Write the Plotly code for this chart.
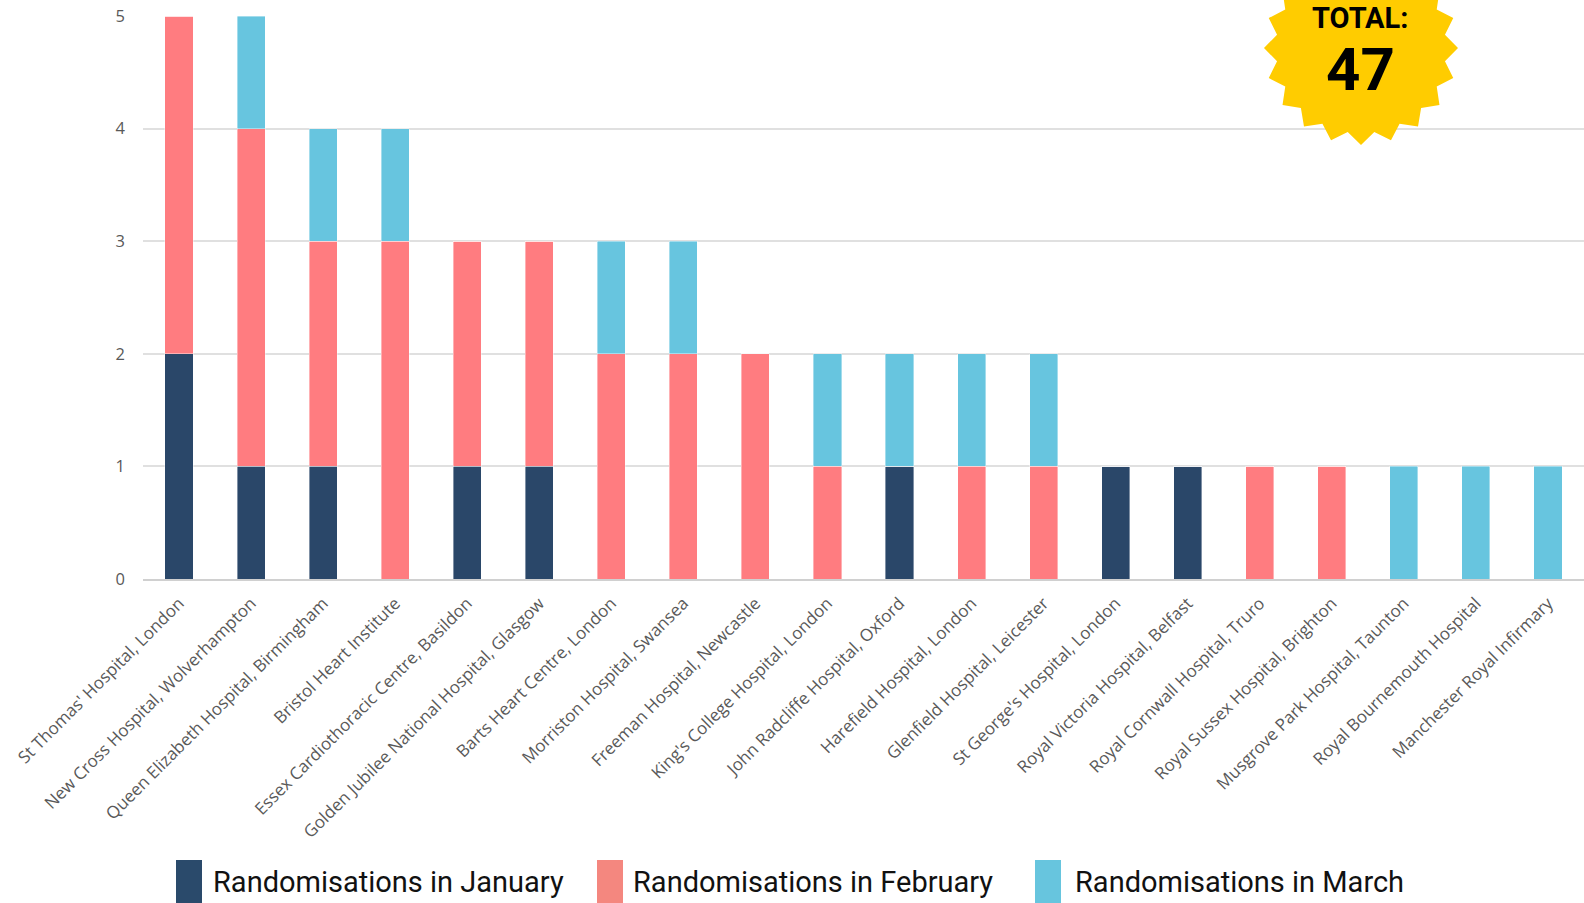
import numpy as np
import plotly.graph_objects as go

hospitals = [
    "St Thomas' Hospital, London",
    "New Cross Hospital, Wolverhampton",
    "Queen Elizabeth Hospital, Birmingham",
    "Bristol Heart Institute",
    "Essex Cardiothoracic Centre, Basildon",
    "Golden Jubilee National Hospital, Glasgow",
    "Barts Heart Centre, London",
    "Morriston Hospital, Swansea",
    "Freeman Hospital, Newcastle",
    "King's College Hospital, London",
    "John Radcliffe Hospital, Oxford",
    "Harefield Hospital, London",
    "Glenfield Hospital, Leicester",
    "St George's Hospital, London",
    "Royal Victoria Hospital, Belfast",
    "Royal Cornwall Hospital, Truro",
    "Royal Sussex Hospital, Brighton",
    "Musgrove Park Hospital, Taunton",
    "Royal Bournemouth Hospital",
    "Manchester Royal Infirmary",
]
january = [2, 1, 1, 0, 1, 1, 0, 0, 0, 0, 1, 0, 0, 1, 1, 0, 0, 0, 0, 0]
february = [3, 3, 2, 3, 2, 2, 2, 2, 2, 1, 0, 1, 1, 0, 0, 1, 1, 0, 0, 0]
march = [0, 1, 1, 1, 0, 0, 1, 1, 0, 1, 1, 1, 1, 0, 0, 0, 0, 1, 1, 1]
series_names = ["Randomisations in January", "Randomisations in February", "Randomisations in March"]
total_label = "TOTAL:"
total_value = sum(january) + sum(february) + sum(march)

colors = ["#2A4769", "#FF7C80", "#67C5DF"]
legend_colors = ["#2A4A6B", "#F4877F", "#67C5DE"]

W, H = 1584, 903
L, R, T, B = 143, 0, 16, 324
pw, ph = W - L - R, H - T - B

def px2paper(x, y):
    return (x - L) / pw, (H - B - y) / ph

fig = go.Figure()
for name, vals, c in zip(series_names, [january, february, march], colors):
    fig.add_trace(go.Bar(
        x=hospitals, y=vals, name=name,
        marker=dict(color=c, line=dict(color="rgba(255,255,255,0.5)", width=0.8)),
        showlegend=False,
    ))

# custom legend
legend_items = [(176, 211), (597, 631), (1035, 1073)]
for (rx, tx), name, c in zip(legend_items, series_names, legend_colors):
    x0, y0 = px2paper(rx, 860)
    x1, y1 = px2paper(rx + 26, 910)
    fig.add_shape(type="rect", xref="paper", yref="paper", x0=x0, x1=x1, y0=y1, y1=y0,
                  fillcolor=c, line_width=0, layer="above")
    ax, ay = px2paper(tx, 882)
    fig.add_annotation(xref="paper", yref="paper", x=ax, y=ay, text=name, showarrow=False,
                       xanchor="left", yanchor="middle",
                       font=dict(family="Roboto", size=29, color="#111111"))

# starburst badge
cx, cy, Ro, Ri, n = 1361, 48, 97, 85, 20
pts = []
for i in range(2 * n):
    a = np.pi / 2 + i * np.pi / n
    r = Ro if i % 2 == 0 else Ri
    px_, py_ = px2paper(cx + r * np.cos(a), cy + r * np.sin(a))
    pts.append((px_, py_))
path = "M " + " L ".join(f"{p[0]:.5f},{p[1]:.5f}" for p in pts) + " Z"
fig.add_shape(type="path", xref="paper", yref="paper", path=path,
              fillcolor="#FFCC00", line_width=0, layer="above")
tx, ty = px2paper(1360, 18)
fig.add_annotation(xref="paper", yref="paper", x=tx, y=ty, text=f"<b>{total_label}</b>",
                   showarrow=False, xanchor="center", yanchor="middle",
                   font=dict(family="Roboto", size=29, color="#000000"))
tx, ty = px2paper(1360, 70)
fig.add_annotation(xref="paper", yref="paper", x=tx, y=ty, text=f"<b>{total_value}</b>",
                   showarrow=False, xanchor="center", yanchor="middle",
                   font=dict(family="Roboto", size=60, color="#000000"))

fig.update_layout(
    width=W, height=H,
    margin=dict(l=L, r=R, t=T, b=B, pad=0),
    barmode="stack", bargap=0.61,
    plot_bgcolor="white", paper_bgcolor="white",
    font=dict(family="Open Sans", color="#595959"),
    xaxis=dict(tickangle=-45, tickfont=dict(size=17, color="#595959"),
               showline=True, linecolor="#D0D0D0", linewidth=1.5,
               ticks="", showgrid=False, automargin=False, ticklabelstandoff=6),
    yaxis=dict(range=[0, 5], dtick=1, tickfont=dict(size=16.5, color="#595959"),
               showgrid=True, gridcolor="#E0E0E0", gridwidth=1.5,
               zeroline=False, ticklabelstandoff=17, automargin=False),
)

fig.write_html("out.html", config={"displayModeBar": False},
               post_script="document.body.style.margin='0';document.body.style.overflow='hidden';")
